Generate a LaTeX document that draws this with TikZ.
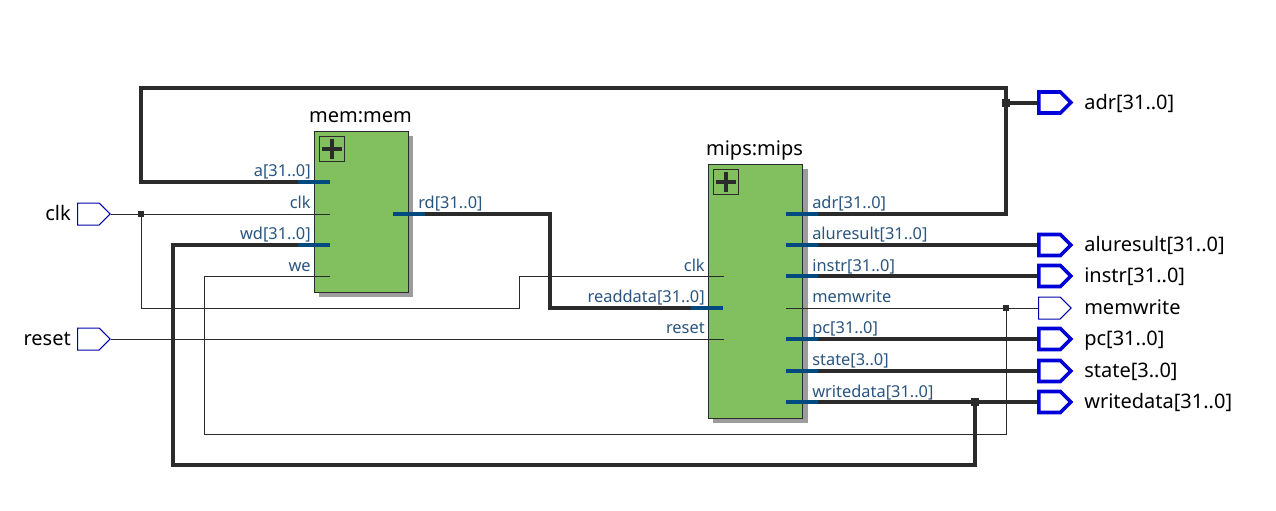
\documentclass[tikz,border=0pt]{standalone}
\usepackage{fontspec}
\setmainfont{Noto Sans}
\usetikzlibrary{shapes.symbols,calc}
\definecolor{blockgreen}{HTML}{82C05F}
\definecolor{pinblue}{HTML}{004A7F}
\definecolor{pintext}{HTML}{2A5580}
\definecolor{wirec}{HTML}{2B2B2B}
\definecolor{shadowc}{HTML}{9C9C9C}
\definecolor{portblue}{HTML}{0000D8}
\definecolor{thinportc}{HTML}{0000A8}
\tikzset{
 x=0.75pt,y=-0.75pt,
 thinwire/.style={draw=wirec,line width=0.75pt},
 bus/.style={draw=wirec,line width=3pt,line join=miter},
 stub/.style={draw=pinblue,line width=3pt},
 block/.style={draw=wirec,line width=0.75pt,fill=blockgreen,inner sep=0pt,outer sep=0pt,anchor=north west},
 shade/.style={fill=shadowc,draw=none,inner sep=0pt,outer sep=0pt,anchor=north west},
 plusbox/.style={draw=wirec,line width=0.6pt,fill=blockgreen,inner sep=0pt,outer sep=0pt,minimum width=18.4pt,minimum height=18.4pt,anchor=north west},
 port/.style={shape=signal,signal to=east,signal pointer angle=90,fill=white,inner sep=0pt,anchor=west},
 busport/.style={port,draw=portblue,line width=2.7pt,minimum width=24pt,minimum height=15.75pt},
 thinport/.style={port,draw=thinportc,line width=0.75pt,minimum width=24.5pt,minimum height=16.5pt},
 portlabel/.style={font=\fontsize{15}{15}\selectfont,text=black,inner sep=0pt},
 pinlabel/.style={font=\fontsize{12.3}{13}\selectfont,text=pintext,inner sep=0pt},
 title/.style={font=\fontsize{15}{15}\selectfont,text=black,inner sep=0pt,anchor=base},
 dotb/.style={fill=wirec,draw=none,inner sep=0pt,minimum size=6pt,shape=rectangle},
 dots/.style={fill=wirec,draw=none,inner sep=0pt,minimum size=3.8pt,shape=rectangle},
}
\newcommand{\plusmark}[1]{%
 \draw[wirec,line width=2.6pt] ($(#1.center)+(-10,0)$) -- ($(#1.center)+(10,0)$);
 \draw[wirec,line width=2.6pt] ($(#1.center)+(0,-10)$) -- ($(#1.center)+(0,10)$);}
\begin{document}
\begin{tikzpicture}
\useasboundingbox[fill=white] (0,0) rectangle (1276,510);
% shadows and blocks
\node[shade,minimum width=70.5pt,minimum height=120.8pt] (memshadow) at (319.3,136.3) {};
\node[shade,minimum width=71.2pt,minimum height=190.5pt] (mipsshadow) at (713,169) {};
\node[block,minimum width=70.5pt,minimum height=120.8pt] (mem) at (314.3,131.3) {};
\node[block,minimum width=71.2pt,minimum height=190.5pt] (mips) at (708,164) {};
\node[plusbox] (memplus) at (319.5,136.5) {};
\node[plusbox] (mipsplus) at (713.5,169.5) {};
\plusmark{memplus}
\plusmark{mipsplus}
\node[title] (memtitle) at (360.5,122.5) {mem:mem};
\node[title] (mipstitle) at (754.5,155) {mips:mips};
% pins
\coordinate (pa) at (330,182);
\coordinate (pclk) at (330,214);
\coordinate (pwd) at (330,245);
\coordinate (pwe) at (330,276);
\coordinate (prd) at (393,213.5);
\coordinate (qclk) at (724,276);
\coordinate (qread) at (723,308);
\coordinate (qreset) at (724,339);
\coordinate (qadr) at (786,213.5);
\coordinate (qalu) at (786,245);
\coordinate (qinstr) at (786,276);
\coordinate (qmem) at (786,308);
\coordinate (qpc) at (786,339);
\coordinate (qstate) at (786,371);
\coordinate (qwrite) at (786,402);
% ports
\node[thinport] (inclk) at (77,214) {};
\node[thinport] (inreset) at (77,339) {};
\node[busport] (oadr) at (1037,102.5) {};
\node[busport] (oalu) at (1037,245) {};
\node[busport] (oinstr) at (1037,276) {};
\node[thinport] (omem) at (1038,308) {};
\node[busport] (opc) at (1037,339) {};
\node[busport] (ostate) at (1037,371) {};
\node[busport] (owrite) at (1037,402) {};
% junctions
\node[dots] (jclk) at (141,214) {};
\node[dots] (jmem) at (1006,308) {};
\node[dotb] (jadr) at (1006,102.5) {};
\node[dotb] (jwrite) at (975,402) {};
% thin wires
\draw[thinwire] (inclk.east) -- (pclk);
\draw[thinwire] (jclk.center) |- (519,308) |- (qclk);
\draw[thinwire] (inreset.east) -- (qreset);
\draw[thinwire] (pwe) -- (204,276) |- (1006,434) -- (jmem.center);
\draw[thinwire] (qmem) -- (omem.west);
% buses
\draw[bus] (qadr) -- (1006,213.5) -- (1006,88) -- (141,88) -- (141,182) -- (pa);
\draw[bus] (jadr.center) -- (oadr.west);
\draw[bus] (prd) -- (550,213.5) -- (550,308) -- (qread);
\draw[bus] (pwd) -- (173,245) -- (173,465) -- (975,465) -- (jwrite.center);
\draw[bus] (qalu) -- (oalu.west);
\draw[bus] (qinstr) -- (oinstr.west);
\draw[bus] (qpc) -- (opc.west);
\draw[bus] (qstate) -- (ostate.west);
\draw[bus] (qwrite) -- (owrite.west);
% blue stubs
\draw[stub] (298,182) -- (pa);
\draw[stub] (298,245) -- (pwd);
\draw[stub] (prd) -- (425,213.5);
\draw[stub] (691,308) -- (qread);
\foreach \p in {qadr,qalu,qinstr,qpc,qstate,qwrite} \draw[stub] (\p) -- ++(32,0);
% pin labels
\node[pinlabel,anchor=base east] (la) at (311,176) {a[31..0]};
\node[pinlabel,anchor=base east] (lclk) at (311,208) {clk};
\node[pinlabel,anchor=base east] (lwd) at (311,239) {wd[31..0]};
\node[pinlabel,anchor=base east] (lwe) at (311,271) {we};
\node[pinlabel,anchor=base west] (lrd) at (418,208) {rd[31..0]};
\node[pinlabel,anchor=base east] (lqclk) at (705,271) {clk};
\node[pinlabel,anchor=base east] (lqread) at (705,302) {readdata[31..0]};
\node[pinlabel,anchor=base east] (lqreset) at (705,333) {reset};
\node[pinlabel,anchor=base west] (lqadr) at (812,208) {adr[31..0]};
\node[pinlabel,anchor=base west] (lqalu) at (812,239) {aluresult[31..0]};
\node[pinlabel,anchor=base west] (lqinstr) at (812,271) {instr[31..0]};
\node[pinlabel,anchor=base west] (lqmem) at (812,302) {memwrite};
\node[pinlabel,anchor=base west] (lqpc) at (812,333) {pc[31..0]};
\node[pinlabel,anchor=base west] (lqstate) at (812,365) {state[3..0]};
\node[pinlabel,anchor=base west] (lqwrite) at (812,397) {writedata[31..0]};
% port labels
\node[portlabel,anchor=base east] (tclk) at (71,220) {clk};
\node[portlabel,anchor=base east] (treset) at (71,345) {reset};
\node[portlabel,anchor=base west] (tadr) at (1084,109) {adr[31..0]};
\node[portlabel,anchor=base west] (talu) at (1084,251) {aluresult[31..0]};
\node[portlabel,anchor=base west] (tinstr) at (1084,282) {instr[31..0]};
\node[portlabel,anchor=base west] (tmem) at (1084,314) {memwrite};
\node[portlabel,anchor=base west] (tpc) at (1084,345) {pc[31..0]};
\node[portlabel,anchor=base west] (tstate) at (1084,377) {state[3..0]};
\node[portlabel,anchor=base west] (twrite) at (1084,408) {writedata[31..0]};
\end{tikzpicture}
\end{document}
